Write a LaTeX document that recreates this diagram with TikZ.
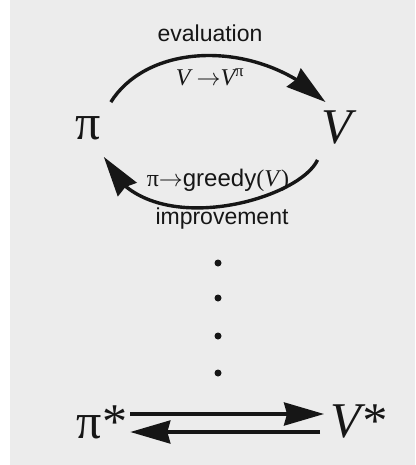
\RequirePackage{fix-cm}
\documentclass[tikz,border=0pt]{standalone}
\usepackage{amsmath}
\usepackage{fontspec}
\setsansfont{Liberation Sans}
\newfontfamily\serifsym{Liberation Serif}
\usetikzlibrary{arrows.meta,bending,positioning}

\definecolor{paper}{RGB}{236,236,236}
\definecolor{ink}{RGB}{22,22,22}

\begin{document}
\begin{tikzpicture}[x=1pt,y=-1pt,>={Stealth[length=40pt,width=23pt,inset=3pt,flex]},
 every node/.style={inner sep=0pt,text=ink},
 bigsym/.style={font=\serifsym\fontsize{50}{54}\selectfont},
 lbl/.style={font=\sffamily\fontsize{23}{26}\selectfont},
 formula/.style={font=\serifsym\fontsize{24}{27}\selectfont},
 flow/.style={->,line width=3.4pt,draw=ink},
 dotnode/.style={circle,fill=ink,minimum size=7pt}]
 \fill[paper] (0,0) rectangle (415,465);
 \fill[white] (0,0) rectangle (10,465);
 \useasboundingbox (0,0) rectangle (415,465);
 % the two ends of the cycle
 \node[bigsym] (pi) at (88,128) {π};
 \node[bigsym] (V) at (337,128) {\itshape V};
 \node[lbl] (eval) at (210,33) {evaluation};
 \node[formula] (evalf) at (210,77) {\itshape V\ $\rightarrow$V\textsuperscript{\upshape π}};
 \node[formula] (imprf) at (218,180) {π$\rightarrow$\textsf{greedy}(\textit{V})};
 \node[lbl] (impr) at (222,219) {improvement};
 \draw[flow] ([shift={(10pt,14pt)}]pi.north east) .. controls (150,40) and (262,40) .. ([shift={(4pt,9pt)}]V.north west);
 \draw[flow] ([shift={(-4pt,-15pt)}]V.south west) .. controls (298,202) and (140,244) .. ([shift={(3pt,-17pt)}]pi.south east);
 % dots down to the fixed point
 \foreach \y [count=\i] in {263,298,336,373}
 \node[dotnode] (dot\i) at (218,\y) {};
 \node[bigsym] (pistar) at (102,422) {π*};
 \node[bigsym] (Vstar) at (358,422) {\itshape V*};
 \draw[flow] ([xshift=3pt]pistar.east |- 0,414) -- ([xshift=-6pt]Vstar.west |- 0,414);
 \draw[flow] ([xshift=-10pt]Vstar.west |- 0,432) -- ([xshift=3pt]pistar.east |- 0,432);
\end{tikzpicture}
\end{document}
